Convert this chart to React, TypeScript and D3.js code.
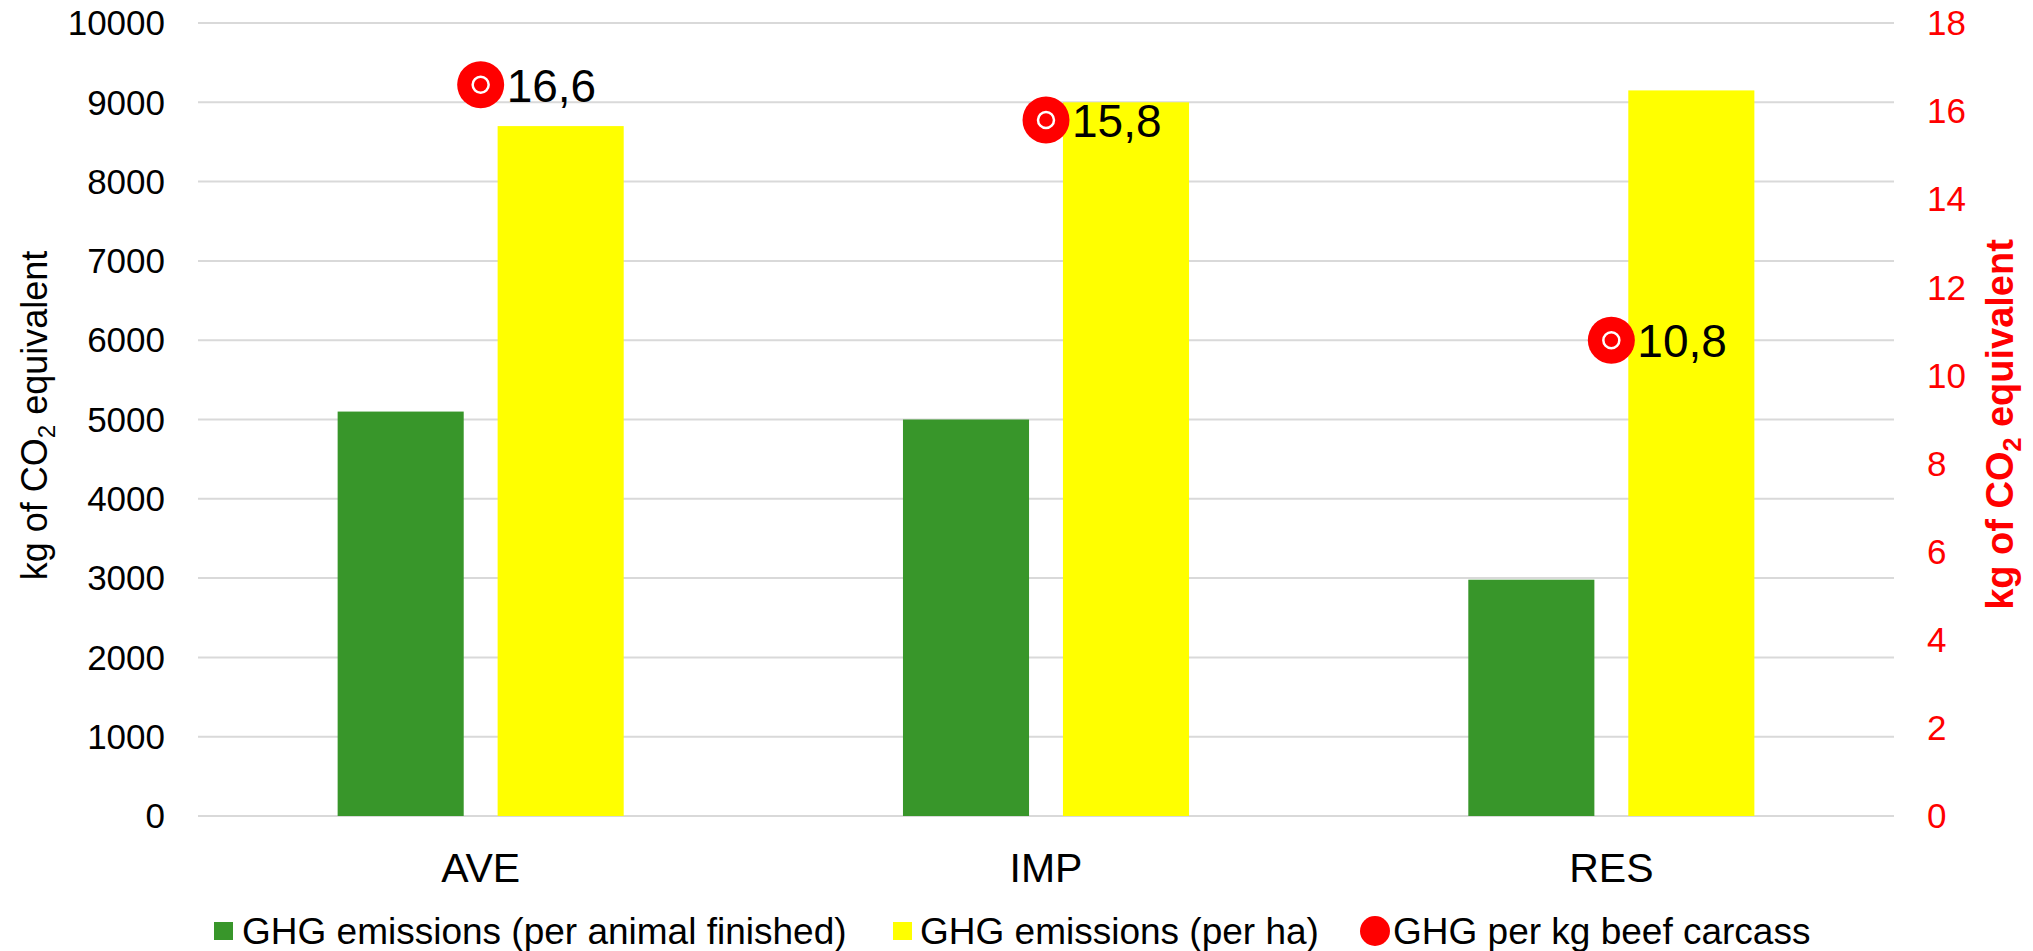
import React from "react";
import * as d3 from "d3";

const categories = ["AVE", "IMP", "RES"];
const perAnimal = [5100, 5000, 2980];
const perHa = [8700, 9000, 9150];
const perKgCarcass = [16.6, 15.8, 10.8];
const perKgLabels = ["16,6", "15,8", "10,8"];
const leftTicks = [0, 1000, 2000, 3000, 4000, 5000, 6000, 7000, 8000, 9000, 10000];
const rightTicks = [0, 2, 4, 6, 8, 10, 12, 14, 16, 18];
const legendLabels = [
  "GHG emissions (per animal finished)",
  "GHG emissions (per ha)",
  "GHG per kg beef carcass",
];

const W = 2033;
const H = 951;
const FONT = "'Liberation Sans', Arial, sans-serif";
const GREEN = "#38962A";
const YELLOW = "#FFFF00";
const RED = "#FF0000";

export default function App() {
  const plotLeft = 198;
  const plotRight = 1894;
  const plotTop = 23;
  const plotBottom = 816;

  const x = d3.scaleBand<string>().domain(categories).range([plotLeft, plotRight]).padding(0);
  const yL = d3.scaleLinear().domain([0, 10000]).range([plotBottom, plotTop]);
  const yR = d3.scaleLinear().domain([0, 18]).range([plotBottom, plotTop]);

  const band = x.bandwidth();
  const barW = band * 0.223;
  const gap = band * 0.06;

  const legendY = 931;

  return (
    <svg
      width={W}
      height={H}
      style={{ position: "absolute", left: 0, top: 0, background: "#fff" }}
      fontFamily={FONT}
    >
      <rect x={0} y={0} width={W} height={H} fill="#fff" />
      {leftTicks.map((t) => (
        <line
          key={"g" + t}
          x1={plotLeft}
          x2={plotRight}
          y1={yL(t)}
          y2={yL(t)}
          stroke="#D9D9D9"
          strokeWidth={2}
        />
      ))}
      {leftTicks.map((t) => (
        <text
          key={"lt" + t}
          x={165}
          y={yL(t)}
          dy="0.35em"
          textAnchor="end"
          fontSize={35}
          fill="#000"
        >
          {t}
        </text>
      ))}
      {rightTicks.map((t) => (
        <text
          key={"rt" + t}
          x={1927}
          y={yR(t)}
          dy="0.35em"
          textAnchor="start"
          fontSize={35}
          fill={RED}
        >
          {t}
        </text>
      ))}
      {categories.map((c, i) => {
        const cx = (x(c) as number) + band / 2;
        return (
          <g key={"b" + c}>
            <rect
              x={cx - gap / 2 - barW}
              y={yL(perAnimal[i])}
              width={barW}
              height={plotBottom - yL(perAnimal[i])}
              fill={GREEN}
            />
            <rect
              x={cx + gap / 2}
              y={yL(perHa[i])}
              width={barW}
              height={plotBottom - yL(perHa[i])}
              fill={YELLOW}
            />
          </g>
        );
      })}
      {categories.map((c, i) => {
        const cx = (x(c) as number) + band / 2;
        const cy = yR(perKgCarcass[i]);
        return (
          <g key={"m" + c}>
            <circle cx={cx} cy={cy} r={23.5} fill={RED} />
            <circle cx={cx} cy={cy} r={8} fill={RED} stroke="#fff" strokeWidth={2.5} />
            <text x={cx + 26} y={cy + 17} fontSize={46} fill="#000">
              {perKgLabels[i]}
            </text>
          </g>
        );
      })}
      {categories.map((c) => (
        <text
          key={"c" + c}
          x={(x(c) as number) + band / 2}
          y={882}
          textAnchor="middle"
          fontSize={41}
          fill="#000"
        >
          {c}
        </text>
      ))}
      <text
        transform={`translate(47, ${(plotTop + plotBottom) / 2 - 4}) rotate(-90)`}
        textAnchor="middle"
        fontSize={36}
        fill="#000"
      >
        kg of CO<tspan fontSize={24} dy={8}>2</tspan>
        <tspan dy={-8}> equivalent</tspan>
      </text>
      <text
        transform={`translate(2013, ${(plotTop + plotBottom) / 2 + 5}) rotate(-90)`}
        textAnchor="middle"
        fontSize={38}
        fontWeight="bold"
        fill={RED}
      >
        kg of CO<tspan fontSize={25} dy={8}>2</tspan>
        <tspan dy={-8}> equivalent</tspan>
      </text>
      <rect x={214} y={legendY - 9} width={19} height={18} fill={GREEN} />
      <text x={242} y={legendY + 13} fontSize={37} fill="#000">
        {legendLabels[0]}
      </text>
      <rect x={893} y={legendY - 9} width={19} height={18} fill={YELLOW} />
      <text x={920} y={legendY + 13} fontSize={37} fill="#000">
        {legendLabels[1]}
      </text>
      <circle cx={1375} cy={legendY} r={15} fill={RED} />
      <text x={1393} y={legendY + 13} fontSize={37} fill="#000">
        {legendLabels[2]}
      </text>
    </svg>
  );
}
